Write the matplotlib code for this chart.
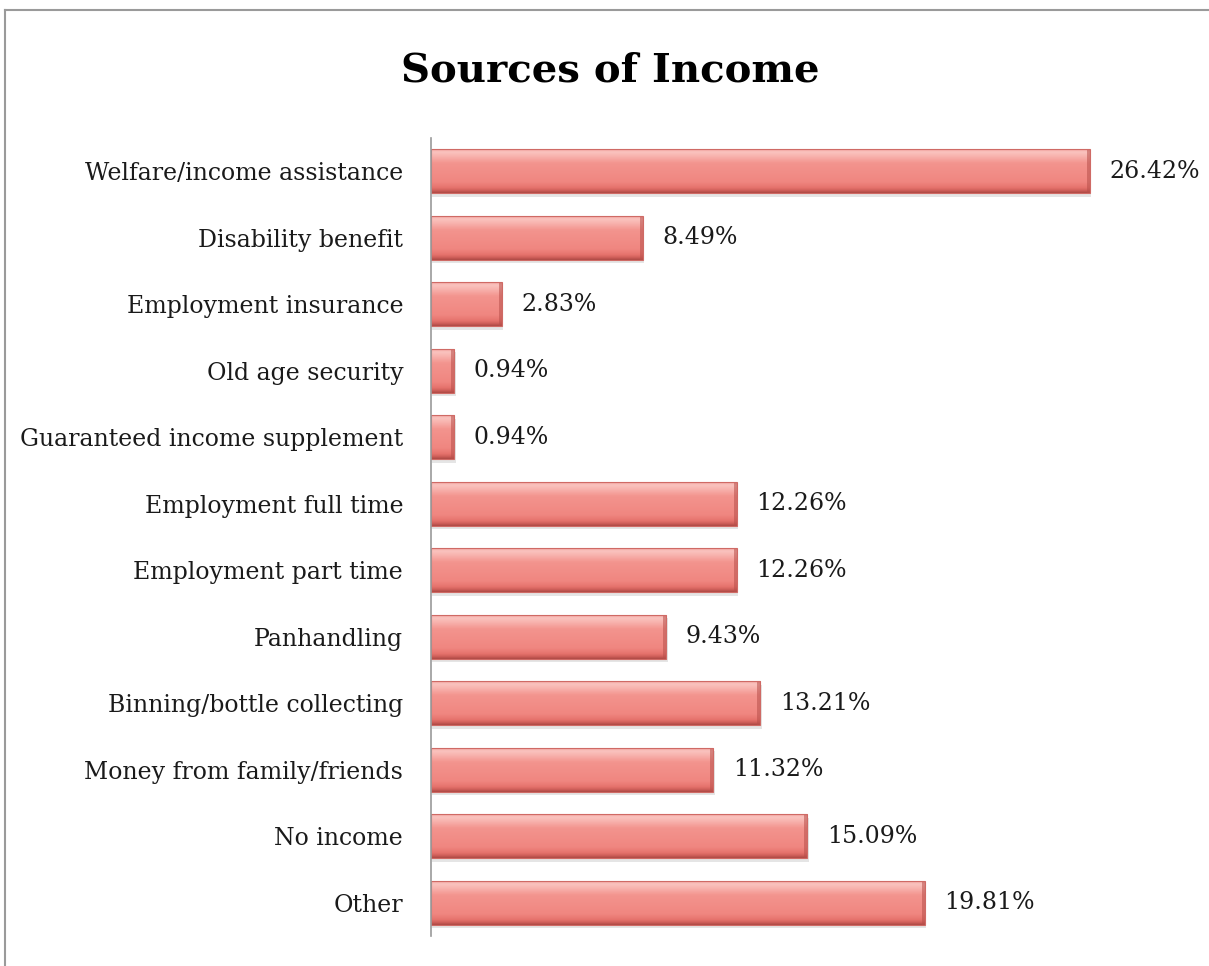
import numpy as np
import matplotlib.pyplot as plt
from matplotlib.colors import LinearSegmentedColormap
from matplotlib.patches import Rectangle
from matplotlib.lines import Line2D

categories = [
    "Welfare/income assistance",
    "Disability benefit",
    "Employment insurance",
    "Old age security",
    "Guaranteed income supplement",
    "Employment full time",
    "Employment part time",
    "Panhandling",
    "Binning/bottle collecting",
    "Money from family/friends",
    "No income",
    "Other",
]
percent = [26.42, 8.49, 2.83, 0.94, 0.94, 12.26, 12.26, 9.43, 13.21, 11.32, 15.09, 19.81]

FONT = "DejaVu Serif"
W, H = 1209, 966

fig = plt.figure(figsize=(W / 100, H / 100), dpi=100)

# thin grey frame on the top and left edges
fig.add_artist(Line2D([5 / W, 1], [1 - 10 / H] * 2, color="#9a9a9a", lw=1.5))
fig.add_artist(Line2D([5 / W] * 2, [0, 1 - 10 / H], color="#9a9a9a", lw=1.5))

ax = fig.add_axes([431 / W, 1 - 936 / H, 748 / W, 798 / H])
ax.set_xlim(0, 30)
ax.set_ylim(len(categories) - 0.5, -0.5)

# vertical shading used inside each bar (top -> bottom)
shade = LinearSegmentedColormap.from_list("bar", [
    (0.00, "#f29c97"),
    (0.06, "#fac4c0"),
    (0.16, "#f8b3ae"),
    (0.32, "#f3948e"),
    (0.75, "#f08680"),
    (0.88, "#e6736d"),
    (0.95, "#cc5c57"),
    (1.00, "#a94743"),
])
grad = np.linspace(0, 1, 256).reshape(-1, 1)

bar_h = 0.66
y = np.arange(len(categories))
bars = ax.barh(y, percent, height=bar_h, color="none", edgecolor="none", zorder=3)

for rect, val in zip(bars, percent):
    x0, y0 = rect.get_x(), rect.get_y()
    w, h = rect.get_width(), rect.get_height()
    # soft drop shadow
    ax.add_patch(Rectangle((x0 + 0.06, y0 + 0.05), w, h, facecolor="#000000",
                           alpha=0.10, edgecolor="none", zorder=2))
    im = ax.imshow(grad, cmap=shade, aspect="auto", interpolation="bicubic",
                   extent=(x0, x0 + w, y0 + h, y0), zorder=3)
    im.set_clip_path(rect)
    # darker bevel on the right end
    ax.add_patch(Rectangle((x0 + w - 0.12, y0), 0.12, h, facecolor="#b8504b",
                           alpha=0.55, edgecolor="none", zorder=4))
    ax.add_patch(Rectangle((x0, y0), w, h, facecolor="none",
                           edgecolor="#cf6a65", lw=0.8, zorder=4))
    ax.annotate(f"{val:.2f}%", (x0 + w, y0 + h / 2), xytext=(14, 0),
                textcoords="offset points", va="center", ha="left",
                fontsize=17, family=FONT, color="#1a1a1a")

ax.set_yticks(y)
ax.set_yticklabels(categories, fontsize=17, family=FONT, color="#1a1a1a")
ax.tick_params(axis="y", length=0, pad=20)
ax.set_xticks([])
for side in ("top", "right", "bottom"):
    ax.spines[side].set_visible(False)
ax.spines["left"].set_color("#9a9a9a")
ax.spines["left"].set_linewidth(1.2)
ax.spines["left"].set_zorder(5)

fig.text(610 / W, 1 - 70 / H, "Sources of Income", ha="center", va="center",
         fontsize=29, fontweight="bold", family=FONT)

fig.savefig("out.png", dpi=100)
